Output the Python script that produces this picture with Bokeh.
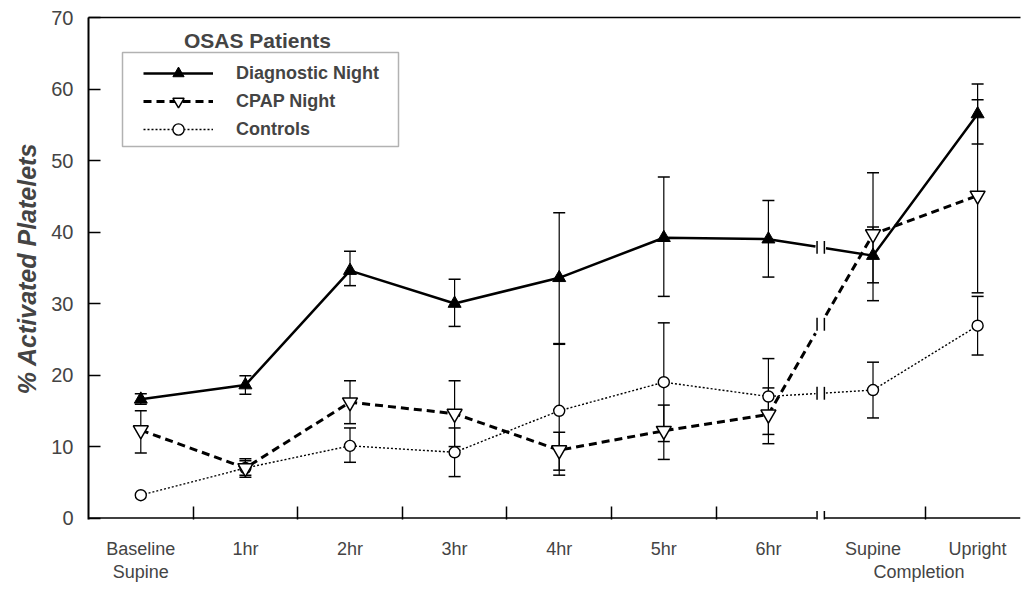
import math
from bokeh.plotting import figure
from bokeh.models import (Range1d, FixedTicker, LinearAxis, Legend, LegendItem,
                          Label, BoxAnnotation, Arrow)
from bokeh.core.properties import value
from bokeh.embed import file_html
from bokeh.resources import INLINE

nan = float("nan")

# ---------------- data ----------------
categories = ["Baseline\nSupine", "1hr", "2hr", "3hr", "4hr", "5hr", "6hr", "Supine", "Upright"]
shared_label = "Completion"          # shared by "Supine" and "Upright"
y_ticks = [0, 10, 20, 30, 40, 50, 60, 70]

diag = [16.6, 18.6, 34.6, 30.0, 33.6, 39.2, 39.0, 36.7, 56.5]
diag_hi = [17.4, 19.9, 37.3, 33.4, 42.7, 47.7, 44.4, 40.7, 60.7]
diag_lo = [15.9, 17.3, 32.5, 26.8, 24.3, 31.0, 33.7, 32.9, 52.3]

cpap = [12.3, 7.0, 16.2, 14.6, 9.5, 12.2, 14.5, 39.7, 45.1]
cpap_hi = [15.0, 8.3, 19.2, 19.2, 12.0, 15.8, 18.2, 48.3, 58.5]
cpap_lo = [9.1, 5.7, 13.2, 10.0, 6.7, 8.2, 10.4, 30.4, 31.5]

ctrl = [3.2, 7.0, 10.1, 9.2, 15.0, 19.0, 17.0, 17.9, 26.9]
ctrl_hi = [nan, 8.0, 12.6, 12.6, 24.4, 27.3, 22.3, 21.8, 31.0]
ctrl_lo = [nan, 6.0, 7.8, 5.8, 6.0, 10.7, 11.7, 14.0, 22.8]

# ---------------- figure ----------------
x = list(range(len(categories)))
BREAK = 6.5       # axis break between "6hr" and "Supine"
GAP = 0.05
SANS = "Liberation Sans"
X_END = 8.41
SHARED_POS = 7.44  # where the shared "Completion" line sits (between Supine and Upright)

p = figure(width=1022, height=590, output_backend="svg", toolbar_location=None,
           x_range=Range1d(-0.5, X_END), y_range=Range1d(-0.2, 70),
           min_border_left=88, min_border_right=2, min_border_top=17, min_border_bottom=71)
p.outline_line_color = None
p.grid.visible = False
p.background_fill_color = "white"

# y axis
ya = p.yaxis[0]
ya.ticker = FixedTicker(ticks=y_ticks)
ya.major_tick_in = 12
ya.major_tick_out = 0
ya.major_tick_line_width = 1.5
ya.minor_tick_line_color = None
ya.axis_line_width = 2
ya.major_label_text_font = SANS
ya.major_label_text_font_size = "20px"
ya.major_label_standoff = 15
ya.axis_label = "% Activated Platelets"
ya.axis_label_text_font = SANS
ya.axis_label_text_font_style = "bold italic"
ya.axis_label_text_font_size = "25px"
ya.axis_label_standoff = 7

# x axis (ticks between categories, labels on categories)
xa = p.xaxis[0]
overrides = {i: c for i, c in enumerate(categories)}
overrides[SHARED_POS] = "\n" + shared_label
xa.ticker = FixedTicker(ticks=x + [SHARED_POS],
                        minor_ticks=[i + 0.5 for i in x[:-1] if i + 0.5 != BREAK])
xa.major_label_overrides = overrides
xa.major_tick_in = 0
xa.major_tick_out = 0
xa.minor_tick_in = 13
xa.minor_tick_out = 0
xa.minor_tick_line_width = 1.5
xa.axis_line_color = None
xa.major_label_text_font = SANS
xa.major_label_text_font_size = "18px"
xa.major_label_text_line_height = 1.15
xa.major_label_standoff = 19

# top border line
top = LinearAxis(ticker=FixedTicker(ticks=[]), axis_line_width=1.5,
                 major_tick_line_color=None, minor_tick_line_color=None,
                 major_label_text_font_size="0px")
p.add_layout(top, "above")

# broken x-axis line
p.segment(x0=[-0.5, BREAK + 0.04], y0=[0, 0], x1=[BREAK - 0.04, X_END], y1=[0, 0],
          line_color="black", line_width=1.5)
for dx in (-0.035, 0.035):
    p.add_layout(Arrow(start=None, end=None, x_start=BREAK + dx, y_start=-1.0,
                       x_end=BREAK + dx, y_end=1.0, line_color="black", line_width=1.5))


def split_line(ys):
    i0 = int(BREAK)
    y0, y1 = ys[i0], ys[i0 + 1]
    ta = (BREAK - GAP) - i0
    tb = (BREAK + GAP) - i0
    xa_ = x[:i0 + 1] + [BREAK - GAP]
    ya_ = ys[:i0 + 1] + [y0 + (y1 - y0) * ta]
    xb_ = [BREAK + GAP] + x[i0 + 1:]
    yb_ = [y0 + (y1 - y0) * tb] + ys[i0 + 1:]
    return xa_, ya_, xb_, yb_, (y0 + y1) / 2


def errorbars(lo, hi):
    p.segment(x0=x, y0=lo, x1=x, y1=hi, line_color="black", line_width=1.2)
    p.scatter(x=x, y=hi, marker="dash", size=12, line_color="black", line_width=1.5)
    p.scatter(x=x, y=lo, marker="dash", size=12, line_color="black", line_width=1.5)


errorbars(ctrl_lo, ctrl_hi)
errorbars(cpap_lo, cpap_hi)
errorbars(diag_lo, diag_hi)

styles = {
    "diag": dict(line_color="black", line_width=2.5),
    "cpap": dict(line_color="black", line_width=3, line_dash="8 5"),
    "ctrl": dict(line_color="black", line_width=1.4, line_dash="2 2"),
}
lines = {}
for key, ys in (("ctrl", ctrl), ("cpap", cpap), ("diag", diag)):
    xa_, ya_, xb_, yb_, ym = split_line(ys)
    la = p.line(xa_, ya_, **styles[key])
    p.line(xb_, yb_, **styles[key])
    p.segment(x0=[BREAK - 0.035, BREAK + 0.035], y0=[ym - 0.9, ym - 0.9],
              x1=[BREAK - 0.035, BREAK + 0.035], y1=[ym + 0.9, ym + 0.9],
              line_color="black", line_width=1.5)
    lines[key] = la

m_ctrl = p.scatter(x, ctrl, marker="circle", size=11, fill_color="white",
                   line_color="black", line_width=1.4)
m_diag = p.scatter(x, diag, marker="triangle", size=13, fill_color="black",
                   line_color="black", line_width=1)
m_cpap = p.scatter(x, cpap, marker="inverted_triangle", size=15, fill_color="white",
                   line_color="black", line_width=1.5)

legend = Legend(items=[
    LegendItem(label="Diagnostic Night", renderers=[lines["diag"], m_diag]),
    LegendItem(label="CPAP Night", renderers=[lines["cpap"], m_cpap]),
    LegendItem(label="Controls", renderers=[lines["ctrl"], m_ctrl]),
], location=(55, 376), padding=0, margin=0, spacing=0, glyph_width=70, glyph_height=28,
    label_height=28, label_standoff=23, border_line_color=None, background_fill_alpha=0,
    label_text_font=SANS, label_text_font_style="bold", label_text_font_size="18px")
p.add_layout(legend)

p.add_layout(BoxAnnotation(left=34, right=310, top=467, bottom=373,
                           left_units="screen", right_units="screen",
                           top_units="screen", bottom_units="screen",
                           fill_color=None, line_color="black", line_width=1.5))
p.add_layout(Label(x=169, y=479, x_units="screen", y_units="screen", text="OSAS Patients",
                   text_align="center", text_baseline="middle", text_font=SANS,
                   text_font_style="bold", text_font_size="21px"))

open("out.html", "w").write(file_html(p, INLINE))
